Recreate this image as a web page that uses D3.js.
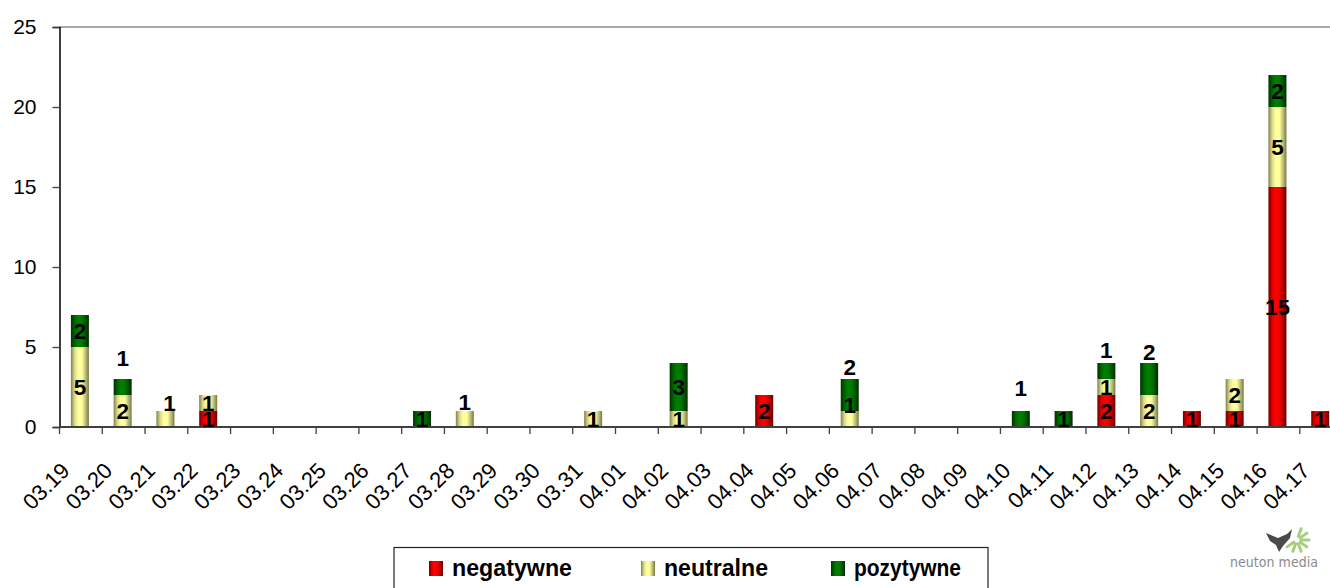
<!DOCTYPE html>
<html>
<head>
<meta charset="utf-8">
<script src="https://cdn.jsdelivr.net/npm/d3@7"></script>
<style>
  body { margin: 0; background: #fff; }
  svg { display: block; font-family: Arial, "Liberation Sans", sans-serif; }
</style>
</head>
<body>
<svg id="chart" width="1330" height="588"></svg>
<script>
// dates on x axis
const dates = ['03.19','03.20','03.21','03.22','03.23','03.24','03.25','03.26','03.27','03.28',
  '03.29','03.30','03.31','04.01','04.02','04.03','04.04','04.05','04.06','04.07',
  '04.08','04.09','04.10','04.11','04.12','04.13','04.14','04.15','04.16','04.17'];

const negatywne = [0,0,0,1,0,0,0,0,0,0, 0,0,0,0,0,0,2,0,0,0, 0,0,0,0,2,0,1,1,15,1];
const neutralne = [5,2,1,1,0,0,0,0,0,1, 0,0,1,0,1,0,0,0,1,0, 0,0,0,0,1,2,0,2,5,0];
const pozytywne = [2,1,0,0,0,0,0,0,1,0, 0,0,0,0,3,0,0,0,2,0, 0,0,1,1,1,2,0,0,2,0];

const seriesNames = ['negatywne', 'neutralne', 'pozytywne'];
const yTicks = [0, 5, 10, 15, 20, 25];

// labels that Excel pushed away from the segment middle
const labelShift = {
  '03.20|pozytywne': [0, -29],
  '03.21|neutralne': [4, -16],
  '03.28|neutralne': [0, -17],
  '04.06|neutralne': [0, -14],
  '04.06|pozytywne': [0, -28],
  '04.10|pozytywne': [0, -31],
  '04.12|pozytywne': [0, -21],
  '04.13|pozytywne': [0, -27]
};

const svg = d3.select('#chart');

const x0 = 59.5, step = 42.77;
const x = d3.scaleBand().domain(dates).range([x0, x0 + step * dates.length]).padding(0);
const y = d3.scaleLinear().domain([0, 25]).range([427, 27]);
const barW = 18;

// gradients for the cylinder look
const defs = svg.append('defs');
const grads = {
  negatywne: [['0', '#6e0000'], ['0.22', '#e00000'], ['0.4', '#ff0000'], ['0.62', '#f00000'], ['0.85', '#a00000'], ['1', '#6a0000']],
  neutralne: [['0', '#7f7f48'], ['0.2', '#d8d88a'], ['0.4', '#ffffa0'], ['0.62', '#ffff99'], ['0.85', '#b0b070'], ['1', '#77773f']],
  pozytywne: [['0', '#003000'], ['0.22', '#006600'], ['0.42', '#008000'], ['0.62', '#007800'], ['0.85', '#004d00'], ['1', '#002a00']]
};
seriesNames.forEach(name => {
  const g = defs.append('linearGradient').attr('id', 'g-' + name)
    .attr('x1', '0').attr('x2', '1').attr('y1', '0').attr('y2', '0');
  grads[name].forEach(s => g.append('stop').attr('offset', s[0]).attr('stop-color', s[1]));
});

// plot border top line
svg.append('line')
  .attr('x1', x0).attr('x2', 1330).attr('y1', y(25)).attr('y2', y(25))
  .attr('stroke', '#8c8c8c').attr('stroke-width', 1.5);

// stack data
const rows = dates.map((d, i) => ({ date: d, negatywne: negatywne[i], neutralne: neutralne[i], pozytywne: pozytywne[i] }));
const stacked = d3.stack().keys(seriesNames)(rows);

const layers = svg.selectAll('g.layer')
  .data(stacked)
  .enter()
  .append('g')
  .attr('class', 'layer')
  .attr('fill', d => 'url(#g-' + d.key + ')');

layers.selectAll('rect')
  .data(d => d.filter(v => v[1] > v[0]))
  .enter()
  .append('rect')
  .attr('x', d => x(d.data.date) + x.bandwidth() / 2 - barW / 2 - 1)
  .attr('width', barW)
  .attr('y', d => y(d[1]))
  .attr('height', d => y(d[0]) - y(d[1]));

// y axis
const yAxis = svg.append('g').attr('transform', `translate(${x0},0)`)
  .call(d3.axisLeft(y).tickValues(yTicks).tickSize(7).tickPadding(16));
yAxis.select('.domain').attr('stroke', '#000').attr('stroke-width', 1.5);
yAxis.selectAll('.tick line').attr('stroke', '#404040').attr('stroke-width', 1.3);
yAxis.selectAll('text').attr('font-size', 21).attr('fill', '#000')
  .attr('font-family', 'Arial, "Liberation Sans", sans-serif');

// x axis: ticks on band boundaries
const xAxisG = svg.append('g');
xAxisG.append('line')
  .attr('x1', x0).attr('x2', 1330).attr('y1', y(0)).attr('y2', y(0))
  .attr('stroke', '#404040').attr('stroke-width', 2);
xAxisG.selectAll('line.tick')
  .data(dates)
  .enter()
  .append('line')
  .attr('class', 'tick')
  .attr('x1', d => x(d)).attr('x2', d => x(d))
  .attr('y1', y(0)).attr('y2', y(0) + 7)
  .attr('stroke', '#404040').attr('stroke-width', 1.3);
xAxisG.selectAll('text')
  .data(dates)
  .enter()
  .append('text')
  .attr('transform', d => `translate(${x(d) + x.bandwidth() / 2 - 10},${y(0) + 45}) rotate(-45)`)
  .attr('text-anchor', 'end')
  .attr('font-size', 22)
  .text(d => d);

// data labels
svg.selectAll('g.labels')
  .data(stacked)
  .enter()
  .append('g')
  .attr('class', 'labels')
  .selectAll('text')
  .data(d => d.filter(v => v[1] > v[0]).map(v => ({ key: d.key, v: v })))
  .enter()
  .append('text')
  .attr('x', d => {
    const s = labelShift[d.v.data.date + '|' + d.key];
    return x(d.v.data.date) + x.bandwidth() / 2 - 1 + (s ? s[0] : 0);
  })
  .attr('y', d => {
    const s = labelShift[d.v.data.date + '|' + d.key];
    return y((d.v[0] + d.v[1]) / 2) + (s ? s[1] : 0);
  })
  .attr('text-anchor', 'middle')
  .attr('dominant-baseline', 'central')
  .attr('font-size', 22.5)
  .attr('font-weight', 'bold')
  .attr('fill', '#000')
  .text(d => d.v[1] - d.v[0]);

// legend
const legend = svg.append('g');
legend.append('rect')
  .attr('x', 394).attr('y', 547.5).attr('width', 594).attr('height', 60)
  .attr('fill', '#fff').attr('stroke', '#222').attr('stroke-width', 1.2);
const legendX = [429, 641, 831];
const legendLen = [120, 104, 107];
seriesNames.forEach((name, i) => {
  legend.append('rect')
    .attr('x', legendX[i]).attr('y', 561).attr('width', 14).attr('height', 15)
    .attr('fill', 'url(#g-' + name + ')');
  legend.append('text')
    .attr('x', legendX[i] + 23).attr('y', 576)
    .attr('font-size', 23).attr('font-weight', 'bold')
    .attr('textLength', legendLen[i]).attr('lengthAdjust', 'spacingAndGlyphs')
    .text(name);
});

// logo
const logo = svg.append('g');
logo.append('path')
  .attr('d', 'M1266,533 L1278,538 L1287,534 L1292,529 L1290,538 L1283,546 L1279,552 L1276,545 L1270,541 Z')
  .attr('fill', '#2a2a2a').attr('opacity', 0.85);
const rays = [-70, -35, 0, 35, 70, 110, 145];
rays.forEach(a => {
  const r = a * Math.PI / 180;
  logo.append('line')
    .attr('x1', 1297 + Math.cos(r) * 4).attr('y1', 540 + Math.sin(r) * 4)
    .attr('x2', 1297 + Math.cos(r) * 12).attr('y2', 540 + Math.sin(r) * 12)
    .attr('stroke', '#8fc45a').attr('stroke-width', 3).attr('stroke-linecap', 'round').attr('opacity', 0.8);
});
logo.append('text')
  .attr('x', 1230).attr('y', 567)
  .attr('font-size', 14)
  .attr('font-family', '"Liberation Sans Narrow", "DejaVu Sans Condensed", Arial, sans-serif')
  .attr('textLength', 88)
  .attr('fill', '#8a8a8a')
  .text('neuton media');
</script>
</body>
</html>
